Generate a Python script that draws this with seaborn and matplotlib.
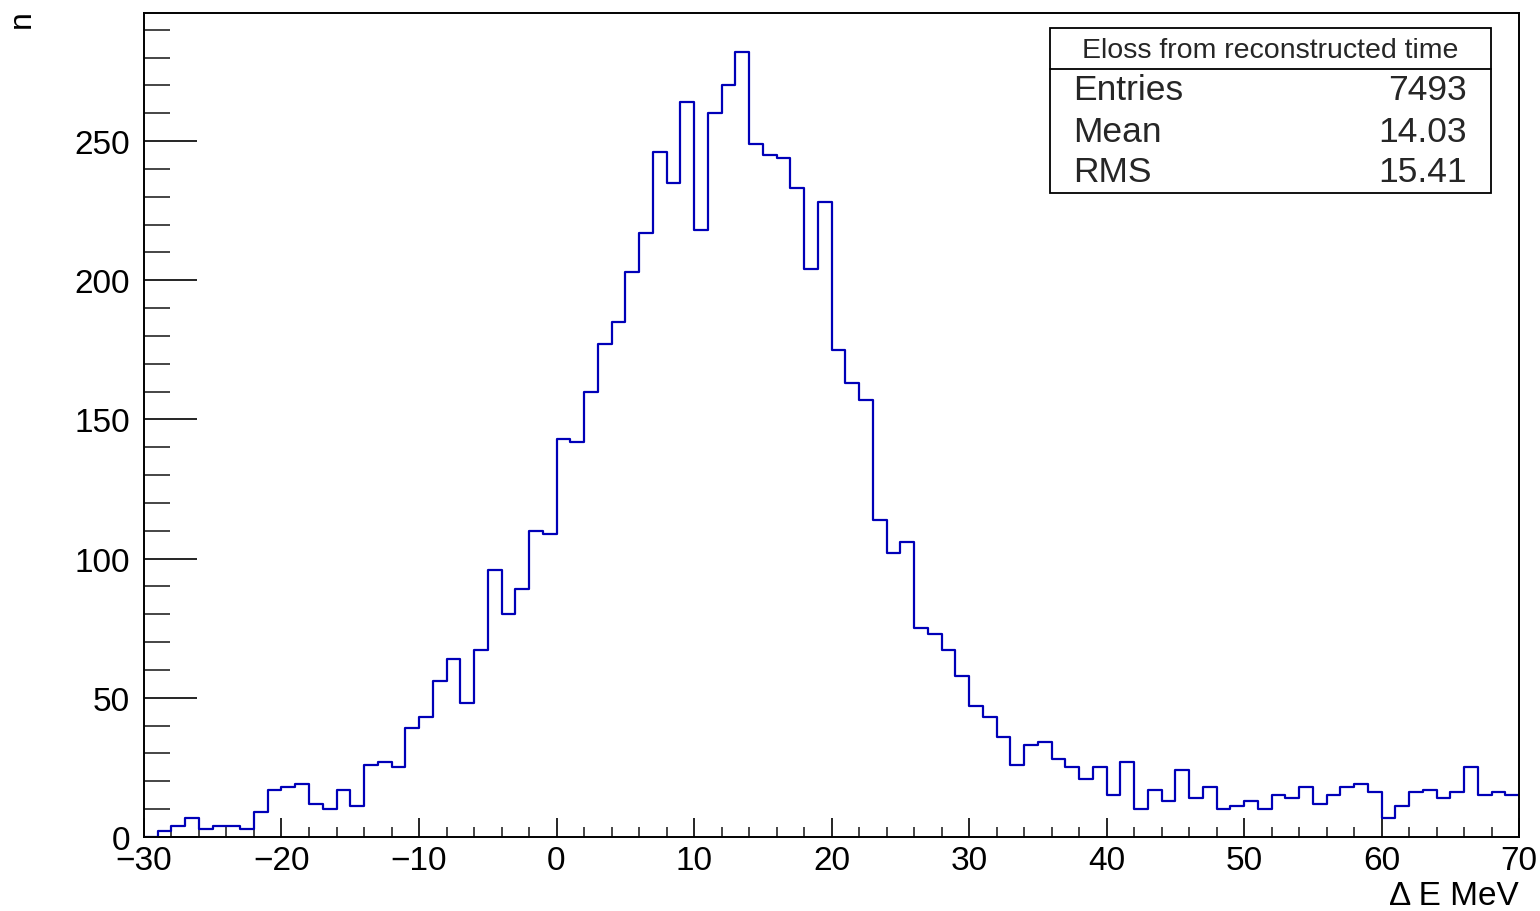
import numpy as np
import pandas as pd
import matplotlib
matplotlib.use("Agg")
import matplotlib.pyplot as plt
from matplotlib.patches import Rectangle
from matplotlib.lines import Line2D
from matplotlib.ticker import MultipleLocator
import seaborn as sns

# ---- data: 1 MeV bins from -30 to 70 ----
bin_edges = list(range(-30, 71))
counts_neg = [0, 2, 4, 7, 3, 4, 4, 3, 9, 17, 18, 19, 12, 10, 17, 11, 26, 27, 25,
              39, 43, 56, 64, 48, 67, 96, 80, 89, 110, 109]
counts_mid = [143, 142, 160, 177, 185, 203, 217, 246, 235, 264, 218, 260, 270, 282,
              249, 245, 244, 233, 204, 228]
counts_tail1 = [175, 163, 157, 114, 102, 106, 75, 73, 67, 58, 47, 43, 36, 26, 33, 34]
counts_tail2 = [28, 25, 21, 25, 15, 27, 10, 17, 13, 24, 14, 18, 10, 11, 13, 10, 15,
                14, 18, 12, 15, 18, 19, 16, 7, 11, 16, 17, 14, 16, 25, 15, 16, 15]
counts = counts_neg + counts_mid + counts_tail1 + counts_tail2

stats_title = "Eloss from reconstructed time"
stats_labels = ["Entries", "Mean", "RMS"]
stats_values = ["7493", "14.03", "15.41"]
x_label = "Δ E MeV"
y_label = "n"

centers = [0.5 * (a + b) for a, b in zip(bin_edges[:-1], bin_edges[1:])]
df = pd.DataFrame({"dE": centers, "n": counts})

sns.set_theme(style="white")
plt.rcParams["font.family"] = ["Liberation Sans", "DejaVu Sans"]

W, H = 1540, 912
fig = plt.figure(figsize=(W / 100, H / 100), dpi=100)
fig.patch.set_facecolor("white")

L, R, T, B = 144, 1519, 14, 838
ax = fig.add_axes([L / W, (H - B) / H, (R - L) / W, (B - T) / H])

sns.histplot(data=df, x="dE", weights="n", bins=bin_edges, element="step",
             fill=False, color="#0000b8", linewidth=1.6, ax=ax)

ax.set_xlim(-30, 70)
ax.set_ylim(0, 296)
ax.set_xlabel("")
ax.set_ylabel("")

for s in ax.spines.values():
    s.set_color("black")
    s.set_linewidth(1.4)

ax.xaxis.set_major_locator(MultipleLocator(10))
ax.xaxis.set_minor_locator(MultipleLocator(2))
ax.yaxis.set_major_locator(MultipleLocator(50))
ax.yaxis.set_minor_locator(MultipleLocator(10))
ax.tick_params(axis="x", which="major", direction="in", length=13.5, width=1.2,
               bottom=True, top=False, labelsize=24, pad=6, colors="black")
ax.tick_params(axis="x", which="minor", direction="in", length=7, width=1.2,
               bottom=True, top=False)
ax.tick_params(axis="y", which="major", direction="in", length=38, width=1.2,
               left=True, right=False, labelsize=24, pad=10, colors="black")
ax.tick_params(axis="y", which="minor", direction="in", length=19, width=1.2,
               left=True, right=False)

# axis titles
fig.text(22 / W, 1 - 10 / H, y_label, rotation=90, ha="center", va="top",
         fontsize=23, color="black")
fig.text(R / W, 1 - 897 / H, x_label, ha="right", va="center",
         fontsize=24, color="black")

# stats box
bx0, bx1, by0, by1, bdiv = 1050, 1491, 29, 194, 70
fig.patches.append(Rectangle((bx0 / W, 1 - by1 / H), (bx1 - bx0) / W, (by1 - by0) / H,
                             transform=fig.transFigure, facecolor="white",
                             edgecolor="black", linewidth=1.3, zorder=5))
fig.lines.append(Line2D([bx0 / W, bx1 / W], [1 - bdiv / H, 1 - bdiv / H],
                        transform=fig.transFigure, color="black", linewidth=1.3,
                        zorder=6))
fig.text((bx0 + bx1) / 2 / W, 1 - 51 / H, stats_title, ha="center", va="center",
         fontsize=20.5, zorder=7)
row_y = [91, 133, 173]
for lab, val, yy in zip(stats_labels, stats_values, row_y):
    fig.text(1073 / W, 1 - yy / H, lab, ha="left", va="center", fontsize=25.5, zorder=7)
    fig.text(1467 / W, 1 - yy / H, val, ha="right", va="center", fontsize=25.5, zorder=7)

fig.savefig("out.png", dpi=100, facecolor="white")
